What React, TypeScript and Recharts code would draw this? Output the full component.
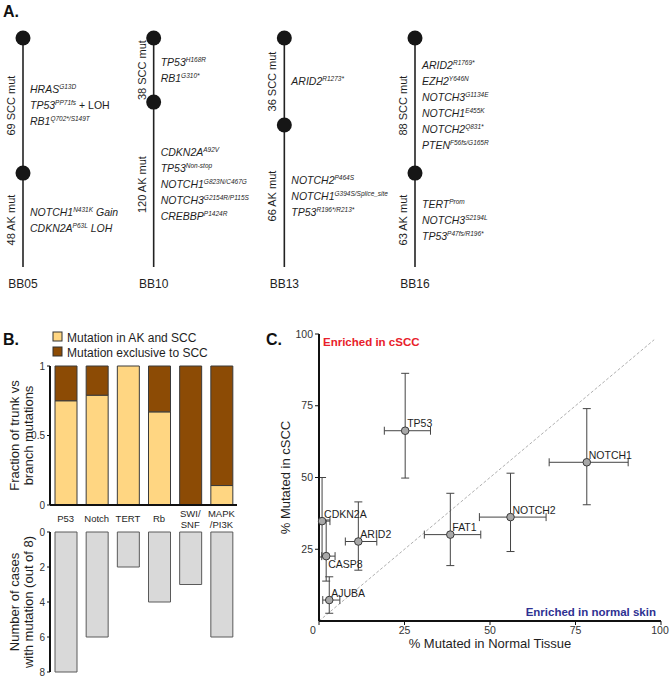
import React from 'react';
import {
  ScatterChart, Scatter, BarChart, Bar, XAxis, YAxis, ErrorBar,
  ReferenceLine, ReferenceArea, Label,
} from 'recharts';

const FONT = '"Liberation Sans", Arial, Helvetica, sans-serif';
const INK = '#1e1e1e';

// ---- A. trees ----
const trees = ['BB05', 'BB10', 'BB13', 'BB16'];
const sccMutCount = [69, 38, 36, 88];
const akMutCount = [48, 120, 66, 63];
// branch point along the trunk (0 = SCC tip, 100 = root)
const splitDepth = [59, 28, 38, 59];

// [gene, superscript, suffix, suffix upright?]
type Mut = [string, string, string?, boolean?];
const sccMutations: Mut[][] = [
  [['HRAS', 'G13D'], ['TP53', 'PP71fs', ' + LOH', true], ['RB1', 'Q702*/S149T']],
  [['TP53', 'H168R'], ['RB1', 'G310*']],
  [['ARID2', 'R1273*']],
  [['ARID2', 'R1769*'], ['EZH2', 'Y646N'], ['NOTCH3', 'G1134E'], ['NOTCH1', 'E455K'], ['NOTCH2', 'Q831*'], ['PTEN', 'F56fs/G165R']],
];
const akMutations: Mut[][] = [
  [['NOTCH1', 'N431K', ' Gain'], ['CDKN2A', 'P63L', ' LOH']],
  [['CDKN2A', 'A92V'], ['TP53', 'Non-stop'], ['NOTCH1', 'G823N/C467G'], ['NOTCH3', 'G2154R/P115S'], ['CREBBP', 'P1424R']],
  [['NOTCH2', 'P464S'], ['NOTCH1', 'G394S/Splice_site'], ['TP53', 'R196*/R213*']],
  [['TERT', 'Prom'], ['NOTCH3', 'S2194L'], ['TP53', 'P47fs/R196*']],
];

// ---- B. pathways ----
const pathways = ['P53', 'Notch', 'TERT', 'Rb', 'SWI/ SNF', 'MAPK /PI3K'];
const trunkFraction = [0.75, 0.79, 1, 0.67, 0, 0.14];
const casesMutated = [8, 6, 2, 4, 3, 6];

// ---- C. normal vs cSCC ----
const genes = ['TP53', 'NOTCH1', 'NOTCH2', 'FAT1', 'ARID2', 'CDKN2A', 'CASP8', 'AJUBA'];
const normalPct = [25.2, 78.3, 56.0, 38.4, 11.5, 0.9, 2.1, 3.0];
const normalLo = [19.1, 67.3, 46.9, 30.8, 7.7, 0.3, 0.8, 1.1];
const normalHi = [32.6, 90.4, 66.4, 47.3, 16.9, 3.2, 4.7, 6.1];
const csccPct = [66.3, 55.3, 36.2, 30.1, 27.7, 34.8, 22.6, 7.3];
const csccLo = [49.8, 40.5, 24.2, 19.3, 17.7, 22.3, 13.9, 2.7];
const csccHi = [86.3, 74.0, 51.5, 44.5, 41.5, 50.0, 35.2, 15.4];
const labelBelow = ['CASP8'];
const diagonalEnd = 98;

const YELLOW = '#FFD682';
const BROWN = '#8C4B05';
const GREY_BAR = '#D9D9D9';

const ROW = 7; // spacing of mutation rows, in depth units

const treeNodes = trees.map((t, i) => [
  { x: i, d: 0, node: true },
  { x: i, d: splitDepth[i], node: true },
  { x: i, d: 100, node: false },
]);

const treeText = trees.flatMap((t, i) => {
  const segs = [
    { a: 0, b: splitDepth[i], label: `${sccMutCount[i]} SCC mut`, muts: sccMutations[i] },
    { a: splitDepth[i], b: 100, label: `${akMutCount[i]} AK mut`, muts: akMutations[i] },
  ];
  return segs.flatMap((s) => {
    const mid = (s.a + s.b) / 2;
    const pts: any[] = [{ x: i, d: mid, branch: s.label }];
    s.muts.forEach((m, k) => pts.push({ x: i, d: mid + (k - (s.muts.length - 1) / 2) * ROW, mut: m }));
    return pts;
  });
});

const pathwayData = pathways.map((name, i) => ({
  name,
  trunk: trunkFraction[i],
  branch: +(1 - trunkFraction[i]).toFixed(2),
  cases: casesMutated[i],
}));

const geneData = genes.map((gene, i) => ({
  gene,
  x: normalPct[i],
  y: csccPct[i],
  xErr: [normalPct[i] - normalLo[i], normalHi[i] - normalPct[i]],
  yErr: [csccPct[i] - csccLo[i], csccHi[i] - csccPct[i]],
}));

const NodeShape = (props: any) => {
  const { cx, cy, payload } = props;
  if (!payload.node) return <g />;
  return <circle cx={cx} cy={cy} r={7.5} fill="#161616" />;
};

const TreeTextShape = (props: any) => {
  const { cx, cy, payload } = props;
  if (payload.branch) {
    const lx = cx - 12;
    return (
      <text x={lx} y={cy} transform={`rotate(-90 ${lx} ${cy})`} textAnchor="middle"
        dominantBaseline="central" fontSize={11} fill={INK} fontFamily={FONT}>
        {payload.branch}
      </text>
    );
  }
  const [gene, sup, suffix, upright] = payload.mut as Mut;
  return (
    <text x={cx + 7} y={cy} dy="0.36em" fontSize={10.5} fill={INK} fontFamily={FONT} fontStyle="italic">
      <tspan>{gene}</tspan>
      <tspan fontSize={6.5} dy={-4}>{sup}</tspan>
      {suffix && (
        <tspan dy={4} fontStyle={upright ? 'normal' : 'italic'}>{suffix}</tspan>
      )}
    </text>
  );
};

const PathwayTick = (props: any) => {
  const { x, y, payload } = props;
  const lines = String(payload.value).split(' ');
  return (
    <text x={x} y={y} textAnchor="middle" fontSize={9.5} fill={INK} fontFamily={FONT}>
      {lines.map((l, k) => (
        <tspan key={k} x={x} dy={k === 0 ? (lines.length > 1 ? 12 : 17) : 11}>{l}</tspan>
      ))}
    </text>
  );
};

const twoLineYLabel = (lines: string[]) => (props: any) => {
  const vb = props.viewBox || {};
  const cy = vb.y + vb.height / 2;
  return (
    <g>
      {lines.map((l, k) => {
        const lx = 14 + k * 14;
        return (
          <text key={k} x={lx} y={cy} transform={`rotate(-90 ${lx} ${cy})`} textAnchor="middle"
            dominantBaseline="central" fontSize={13} fill={INK} fontFamily={FONT}>{l}</text>
        );
      })}
    </g>
  );
};

const GenePoint = (props: any) => {
  const { cx, cy, payload } = props;
  const below = labelBelow.includes(payload.gene);
  return (
    <g>
      <circle cx={cx} cy={cy} r={3.8} fill="#A8A8A8" stroke="#3a3a3a" strokeWidth={1} />
      <text x={cx + 2} y={below ? cy + 12 : cy - 3.5} fontSize={10.5} fill={INK} fontFamily={FONT}>
        {payload.gene}
      </text>
    </g>
  );
};

const ZeroShiftTick = (props: any) => {
  const { x, y, payload } = props;
  return (
    <text x={payload.value === 0 ? x - 6 : x} y={y} dy="0.71em" textAnchor="middle"
      fontSize={10.5} fill="#333" fontFamily={FONT}>{payload.value}</text>
  );
};

const axisLine = { stroke: '#111', strokeWidth: 2 };
const tickStyle = { fontSize: 10, fill: '#333', fontFamily: FONT };

export default function App() {
  return (
    <div style={{ position: 'absolute', left: 0, top: 0, width: 672, height: 678, background: '#fff', fontFamily: FONT }}>
      {/* A */}
      <div style={{ position: 'absolute', left: 0, top: 0 }}>
        <ScatterChart width={672} height={300} margin={{ top: 38, right: 257, bottom: 0, left: 23 }}>
          <XAxis type="number" dataKey="x" domain={[0, 3]} ticks={[0, 1, 2, 3]}
            tickFormatter={(v: number) => trees[v]} axisLine={false} tickLine={false}
            tickSize={0} tickMargin={12} height={33}
            tick={{ fontSize: 12, fill: INK, fontFamily: FONT }} />
          <YAxis type="number" dataKey="d" domain={[0, 100]} reversed hide />
          {treeNodes.map((data, i) => (
            <Scatter key={trees[i]} data={data} line={{ stroke: '#222', strokeWidth: 1.6 }}
              shape={NodeShape} isAnimationActive={false} />
          ))}
          <Scatter data={treeText} shape={TreeTextShape} isAnimationActive={false} />
        </ScatterChart>
      </div>

      {/* B top */}
      <div style={{ position: 'absolute', left: 0, top: 355 }}>
        <BarChart width={245} height={180} data={pathwayData} barSize={22}
          margin={{ top: 11, right: 8, bottom: 0, left: 0 }}>
          <XAxis dataKey="name" interval={0} axisLine={axisLine} tickLine={false}
            tickSize={0} tickMargin={0} height={30} tick={<PathwayTick />} />
          <YAxis domain={[0, 1]} ticks={[0, 0.5, 1]} width={50} axisLine={axisLine}
            tickLine={{ stroke: '#111' }} tickSize={3} tick={tickStyle}>
            <Label content={twoLineYLabel(['Fraction of trunk vs', 'branch mutations'])} />
          </YAxis>
          <Bar dataKey="trunk" stackId="s" fill={YELLOW} stroke="#3a3a3a" strokeWidth={1} isAnimationActive={false} />
          <Bar dataKey="branch" stackId="s" fill={BROWN} stroke="#3a3a3a" strokeWidth={1} isAnimationActive={false} />
        </BarChart>
      </div>

      {/* B bottom */}
      <div style={{ position: 'absolute', left: 0, top: 520 }}>
        <BarChart width={245} height={158} data={pathwayData} barSize={22}
          margin={{ top: 12, right: 8, bottom: 6, left: 0 }}>
          <XAxis dataKey="name" orientation="top" height={0} tick={false} tickLine={false} axisLine={axisLine} />
          <YAxis reversed domain={[0, 8]} ticks={[0, 2, 4, 6, 8]} width={50} axisLine={axisLine}
            tickLine={{ stroke: '#111' }} tickSize={3} tick={tickStyle}>
            <Label content={twoLineYLabel(['Number of cases', 'with mutation (out of 8)'])} />
          </YAxis>
          <Bar dataKey="cases" fill={GREY_BAR} stroke="#5a5a5a" strokeWidth={1} isAnimationActive={false} />
        </BarChart>
      </div>

      {/* C */}
      <div style={{ position: 'absolute', left: 250, top: 320 }}>
        <ScatterChart width={422} height={358} margin={{ top: 14, right: 11, bottom: 17, left: 29 }}>
          <XAxis type="number" dataKey="x" domain={[0, 100]} ticks={[0, 25, 50, 75, 100]}
            axisLine={axisLine} tickLine={{ stroke: '#111' }} tickSize={4} tickMargin={2}
            tick={<ZeroShiftTick />} height={40}>
            <Label content={(p: any) => (
              <text x={p.viewBox.x + p.viewBox.width / 2} y={p.viewBox.y + 27} textAnchor="middle"
                fontSize={13} fill={INK} fontFamily={FONT}>% Mutated in Normal Tissue</text>
            )} />
          </XAxis>
          <YAxis type="number" dataKey="y" domain={[0, 100]} ticks={[25, 50, 75, 100]}
            axisLine={axisLine} tickLine={{ stroke: '#111' }} tickSize={4} width={40}
            tick={{ fontSize: 10.5, fill: '#333', fontFamily: FONT }}>
            <Label content={(p: any) => {
              const lx = p.viewBox.x + 6;
              const cy = p.viewBox.y + p.viewBox.height / 2;
              return (
                <text x={lx} y={cy} transform={`rotate(-90 ${lx} ${cy})`} textAnchor="middle"
                  dominantBaseline="central" fontSize={13} fill={INK} fontFamily={FONT}>% Mutated in cSCC</text>
              );
            }} />
          </YAxis>
          <ReferenceArea x1={0} x2={100} y1={0} y2={100} fill="none" stroke="none" fillOpacity={0}>
            <Label position="insideTopLeft" offset={4} value="Enriched in cSCC"
              style={{ fontSize: 11.5, fontWeight: 700, fill: '#E8202A', fontFamily: FONT }} />
            <Label position="insideBottomRight" offset={5} value="Enriched in normal skin"
              style={{ fontSize: 11.5, fontWeight: 700, fill: '#2E3192', fontFamily: FONT }} />
          </ReferenceArea>
          <ReferenceLine segment={[{ x: 0, y: 0 }, { x: diagonalEnd, y: diagonalEnd }]}
            stroke="#9a9a9a" strokeWidth={0.8} strokeDasharray="3 2" />
          <Scatter data={geneData} shape={GenePoint} isAnimationActive={false}>
            <ErrorBar dataKey="xErr" direction="x" width={4} stroke="#444" strokeWidth={1} isAnimationActive={false} />
            <ErrorBar dataKey="yErr" direction="y" width={4} stroke="#444" strokeWidth={1} isAnimationActive={false} />
          </Scatter>
        </ScatterChart>
      </div>

      {/* panel letters and legend */}
      <svg width={672} height={678} style={{ position: 'absolute', left: 0, top: 0, pointerEvents: 'none' }}>
        <g fontFamily={FONT} fontWeight={700} fontSize={16} fill="#111">
          <text x={3} y={17}>A.</text>
          <text x={3} y={345}>B.</text>
          <text x={266} y={345}>C.</text>
        </g>
        <rect x={53} y={332} width={9} height={9} fill={YELLOW} stroke="#333" />
        <text x={67} y={341.5} fontSize={12} fill={INK} fontFamily={FONT}>Mutation in AK and SCC</text>
        <rect x={53} y={347} width={9} height={9} fill={BROWN} stroke="#333" />
        <text x={67} y={356.5} fontSize={12} fill={INK} fontFamily={FONT}>Mutation exclusive to SCC</text>
      </svg>
    </div>
  );
}
